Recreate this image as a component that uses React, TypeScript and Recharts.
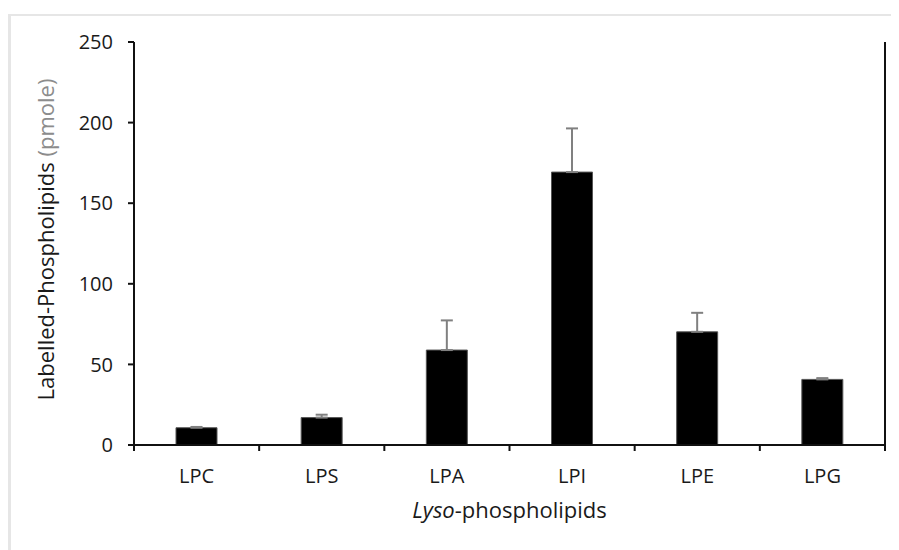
import React from 'react';
import { BarChart, Bar, XAxis, YAxis, ErrorBar } from 'recharts';

const categories = ['LPC', 'LPS', 'LPA', 'LPI', 'LPE', 'LPG'];
const values = [10.7, 17.0, 58.9, 169.3, 70.2, 40.7];
const errorsUp = [0.5, 1.8, 18.4, 27.1, 11.8, 0.8];
const yTicks = [0, 50, 100, 150, 200, 250];

const data = categories.map((c, i) => ({ name: c, value: values[i], err: [0, errorsUp[i]] }));

const FONT = '"Open Sans", sans-serif';
const AXIS = '#111';
const TEXT = '#1a1a1a';

const YLabel = (props: any) => {
  const vb = props.viewBox || {};
  const cx = vb.x - 28;
  const cy = vb.y + vb.height / 2 - 4;
  return (
    <text
      x={cx}
      y={cy}
      transform={`rotate(-90, ${cx}, ${cy})`}
      textAnchor="middle"
      dy="0.35em"
      fontFamily={FONT}
      fontSize={22}
      fill={TEXT}
    >
      <tspan>Labelled-Phospholipids </tspan>
      <tspan fill="#8c8c8c">(pmole)</tspan>
    </text>
  );
};

const XLabel = (props: any) => {
  const vb = props.viewBox || {};
  const cx = vb.x + vb.width / 2;
  const cy = vb.y + 73;
  return (
    <text x={cx} y={cy} textAnchor="middle" fontFamily={FONT} fontSize={22} fill={TEXT}>
      <tspan fontStyle="italic">Lyso</tspan>
      <tspan>-phospholipids</tspan>
    </text>
  );
};

const CatTick = (props: any) => {
  const { x, y, payload, index, visibleTicksCount, width } = props;
  const count = visibleTicksCount || categories.length;
  const half = typeof width === 'number' && width > 0 ? width / count / 2 : 0;
  const isLast = index === count - 1;
  return (
    <g>
      {half > 0 && (
        <line x1={x - half} x2={x - half} y1={y} y2={y + 6} stroke={AXIS} strokeWidth={2} />
      )}
      {half > 0 && isLast && (
        <line x1={x + half} x2={x + half} y1={y} y2={y + 6} stroke={AXIS} strokeWidth={2} />
      )}
      <text x={x} y={y + 24} dy="0.71em" textAnchor="middle" fontFamily={FONT} fontSize={20} fill={TEXT}>
        {payload.value}
      </text>
    </g>
  );
};

export default function App() {
  return (
    <div style={{ position: 'relative', width: 891, height: 542 }}>
      <div
        style={{
          position: 'absolute',
          left: 0,
          top: 6,
          width: 891,
          height: 536,
          borderTop: '2px solid #e6e6e6',
          borderLeft: '3px solid #e6e6e6',
          boxSizing: 'border-box',
        }}
      />
      <div style={{ position: 'absolute', left: 0, top: 0 }}>
        <BarChart
          width={891}
          height={542}
          data={data}
          margin={{ top: 34, right: 13, bottom: 25, left: 66 }}
        >
          <XAxis
            xAxisId="top"
            orientation="top"
            dataKey="name"
            height={0}
            tick={false}
            tickLine={false}
            axisLine={{ stroke: AXIS, strokeWidth: 2 }}
          />
          <XAxis
            dataKey="name"
            height={80}
            tickLine={false}
            tickSize={0}
            tickMargin={0}
            interval={0}
            axisLine={{ stroke: AXIS, strokeWidth: 2 }}
            tick={<CatTick />}
            label={<XLabel />}
          />
          <YAxis
            domain={[0, 250]}
            ticks={yTicks}
            width={60}
            tickSize={6}
            tickMargin={15}
            axisLine={{ stroke: AXIS, strokeWidth: 2 }}
            tickLine={{ stroke: AXIS, strokeWidth: 2 }}
            tick={{ fontFamily: FONT, fontSize: 20, fill: TEXT }}
            label={<YLabel />}
          />
          <YAxis
            yAxisId="right"
            orientation="right"
            domain={[0, 250]}
            width={1}
            tick={false}
            tickLine={false}
            axisLine={{ stroke: AXIS, strokeWidth: 2 }}
          />
          <Bar dataKey="value" fill="#000" stroke="#555" strokeWidth={1} barSize={41} isAnimationActive={false}>
            <ErrorBar dataKey="err" direction="y" width={6} stroke="#808080" strokeWidth={2} isAnimationActive={false} />
          </Bar>
        </BarChart>
      </div>
    </div>
  );
}
